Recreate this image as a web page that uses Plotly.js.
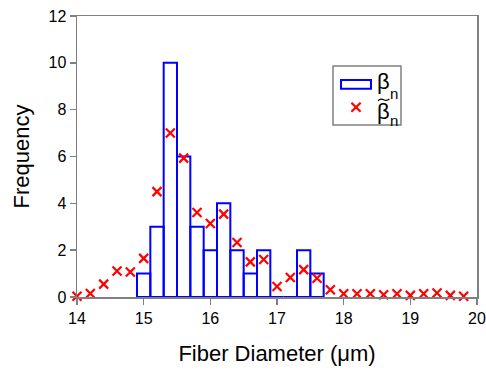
<!DOCTYPE html>
<html><head><meta charset="utf-8">
<script src="https://cdn.plot.ly/plotly-3.0.1.min.js"></script>
<style>body{margin:0;background:#fff}#c{width:486px;height:370px}</style>
</head><body><div id="c"></div>
<script>
// Histogram bins (centers) and counts
const binCenters = [15.0, 15.2, 15.4, 15.6, 15.8, 16.0, 16.2, 16.4, 16.6, 16.8, 17.0, 17.2, 17.4, 17.6];
const binCounts  = [1, 3, 10, 6, 3, 2, 4, 2, 1, 2, 0, 0, 2, 1];
// Estimated frequency points
const estX = [14.0, 14.2, 14.4, 14.6, 14.8, 15.0, 15.2, 15.4, 15.6, 15.8, 16.0, 16.2, 16.4, 16.6, 16.8,
              17.0, 17.2, 17.4, 17.6, 17.8, 18.0, 18.2, 18.4, 18.6, 18.8, 19.0, 19.2, 19.4, 19.6, 19.8];
const estY = [0.03, 0.15, 0.55, 1.11, 1.07, 1.65, 4.5, 7.0, 5.93, 3.61, 3.14, 3.54, 2.33, 1.5, 1.6,
              0.45, 0.83, 1.17, 0.8, 0.31, 0.14, 0.14, 0.14, 0.1, 0.14, 0.07, 0.14, 0.17, 0.07, 0.03];
const xTicks = [14, 15, 16, 17, 18, 19, 20];
const yTicks = [0, 2, 4, 6, 8, 10, 12];
const legendSymbol = 'β', legendSub = 'n';

const font = 'Liberation Sans, Arial, sans-serif';
const blue = '#0000ff', red = '#ff0000', grey = '#808080';
const traces = [
  {type:'bar', x:binCenters, y:binCounts, width:0.2, name:'β_n', showlegend:false,
   marker:{color:'rgba(255,255,255,0)', line:{color:blue, width:2}}},
  {type:'scatter', mode:'markers', x:estX, y:estY, name:'β~_n', showlegend:false, cliponaxis:false,
   marker:{symbol:'x-thin-open', size:9, color:red, line:{color:red, width:2.2}}}
];
const axisCommon = {showline:true, linecolor:grey, linewidth:1.5, mirror:true,
  ticks:'outside', ticklen:6, tickcolor:grey, tickwidth:1.5, showgrid:false, zeroline:false,
  tickfont:{family:font, size:16, color:'#000'}};
// custom legend (paper coordinates)
const shapes = [
  {type:'rect', xref:'paper', yref:'paper', x0:0.64, x1:0.81, y0:0.612, y1:0.822,
   line:{color:grey, width:1.5}, fillcolor:'#fff', layer:'above'},
  {type:'rect', xref:'paper', yref:'paper', x0:0.66, x1:0.735, y0:0.741, y1:0.772,
   line:{color:blue, width:2}, fillcolor:'rgba(0,0,0,0)', layer:'above'},
  {type:'line', xref:'paper', yref:'paper', x0:0.686, x1:0.709, y0:0.691, y1:0.659,
   line:{color:red, width:2.2}, layer:'above'},
  {type:'line', xref:'paper', yref:'paper', x0:0.686, x1:0.709, y0:0.659, y1:0.691,
   line:{color:red, width:2.2}, layer:'above'},
  // tilde accent over the second beta
  {type:'path', xref:'paper', yref:'paper', layer:'above',
   path:'M0.7525,0.698 Q0.758,0.708 0.7665,0.702 T0.781,0.705', line:{color:'#000', width:1.3}}
];
const ann = (x, y, text, size) => ({xref:'paper', yref:'paper', x:x, y:y, xanchor:'left', yanchor:'middle',
  showarrow:false, text:text, borderpad:0, font:{family:font, size:size, color:'#000'}});
const annotations = [
  ann(0.7475, 0.766, legendSymbol, 22),
  ann(0.779, 0.724, legendSub, 15),
  ann(0.7475, 0.660, legendSymbol, 22),
  ann(0.779, 0.628, legendSub, 15)
];
const layout = {
  width:486, height:370, margin:{l:77, r:9, t:16, b:73},
  paper_bgcolor:'#fff', plot_bgcolor:'#fff', bargap:0, showlegend:false,
  xaxis:Object.assign({}, axisCommon, {range:[14,20], tickvals:xTicks,
    title:{text:'Fiber Diameter (μm)', font:{family:font, size:22, color:'#000'}, standoff:20}}),
  yaxis:Object.assign({}, axisCommon, {range:[0,12], tickvals:yTicks,
    title:{text:'Frequency', font:{family:font, size:22, color:'#000'}, standoff:13}}),
  shapes:shapes, annotations:annotations
};
Plotly.newPlot('c', traces, layout, {displayModeBar:false, staticPlot:true});
</script></body></html>
